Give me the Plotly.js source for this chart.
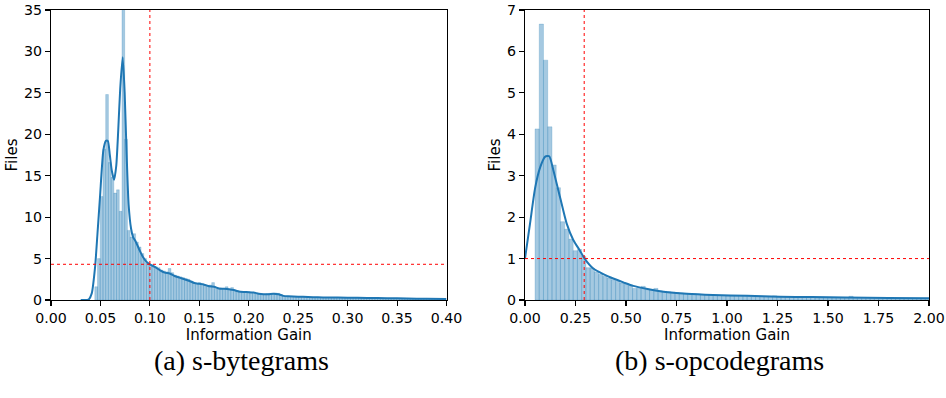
<!DOCTYPE html>
<html>
<head>
<meta charset="utf-8">
<script src="https://cdn.plot.ly/plotly-3.0.1.min.js"></script>
<style>html,body{margin:0;padding:0;background:#fff;}#chart{width:946px;height:398px;}</style>
</head>
<body>
<div id="chart"></div>
<script>
// ---------- Data: (a) s-bytegrams ----------
const bytesBinStart = 0.0443;
const bytesBinWidth = 0.00275;
const bytesCounts = [
  1.6, 5.0, 12.5, 18.2, 24.8, 16.6, 14.8, 12.9, 13.3, 10.7,
  36, 19.4, 8.4, 7.6, 8.0, 7.0, 6.4, 5.6, 5.0, 4.5,
  4.2, 4.1, 4.0, 3.9, 3.6, 3.5, 3.4, 3.8, 3.3, 3.0,
  2.9, 2.8, 2.7, 2.6, 2.5, 2.3, 2.0, 1.9, 2.1, 2.0,
  1.8, 1.7, 1.8, 2.1, 1.4, 1.3, 1.3, 1.4, 1.6, 1.3,
  1.5, 1.2, 1.1, 1.0, 1.0, 1.0, 1.0, 0.9, 0.8, 0.75,
  0.7, 0.7, 0.7, 0.75, 0.8, 0.8, 0.85, 0.8, 0.6, 0.5,
  0.45, 0.42, 0.4, 0.4, 0.38, 0.37, 0.36, 0.35, 0.35, 0.33,
  0.32, 0.33, 0.31, 0.3, 0.3, 0.29, 0.3, 0.28, 0.27, 0.28,
  0.27, 0.26, 0.26, 0.27, 0.25, 0.25, 0.24, 0.24, 0.23, 0.24,
  0.22, 0.22, 0.21, 0.21, 0.2, 0.2, 0.19, 0.19, 0.18, 0.18,
  0.17, 0.17, 0.16, 0.16, 0.16, 0.15, 0.15, 0.14, 0.14, 0.14,
  0.13, 0.13, 0.13, 0.12, 0.12, 0.12, 0.11, 0.11, 0.11
];
const bytesKdeX = [0.030, 0.038, 0.0412, 0.0446, 0.047, 0.0496, 0.053, 0.0555, 0.0575, 0.0595, 0.0615, 0.0638, 0.0660, 0.0680, 0.0700, 0.0725, 0.0745, 0.0765, 0.0785, 0.081, 0.083, 0.085, 0.087, 0.090, 0.093, 0.096, 0.100, 0.105, 0.110, 0.115, 0.120, 0.125, 0.130, 0.135, 0.140, 0.145, 0.150, 0.155, 0.160, 0.165, 0.170, 0.175, 0.180, 0.185, 0.190, 0.195, 0.200, 0.205, 0.210, 0.215, 0.220, 0.225, 0.230, 0.235, 0.240, 0.250, 0.260, 0.270, 0.280, 0.300, 0.320, 0.340, 0.360, 0.380, 0.400];
const bytesKdeY = [0.0, 0.05, 0.8, 4.0, 8.0, 12.5, 18.1, 19.2, 19.2, 17.5, 15.6, 14.5, 16.2, 20.5, 25.5, 29.3, 25.0, 17.5, 11.5, 8.6, 7.6, 7.2, 6.7, 5.9, 5.2, 4.7, 4.3, 4.0, 3.6, 3.3, 3.2, 2.9, 2.7, 2.5, 2.3, 2.05, 1.95, 1.85, 1.65, 1.6, 1.38, 1.35, 1.3, 1.2, 1.02, 0.97, 0.95, 0.9, 0.76, 0.7, 0.7, 0.75, 0.7, 0.5, 0.45, 0.4, 0.36, 0.33, 0.3, 0.28, 0.25, 0.22, 0.18, 0.15, 0.13];
const bytesThresholdX = 0.10;
const bytesThresholdY = 4.31;

// ---------- Data: (b) s-opcodegrams ----------
const opBinStart = 0.0495;
const opBinWidth = 0.021;
const opCounts = [
  4.13, 6.66, 5.79, 4.18, 3.26, 2.71, 1.89, 1.71, 1.47, 1.19,
  1.22, 1.05, 0.78, 0.77, 0.68, 0.62, 0.57, 0.53, 0.49, 0.45,
  0.41, 0.38, 0.35, 0.28, 0.30, 0.33, 0.25, 0.24, 0.28, 0.22,
  0.21, 0.20, 0.19, 0.18, 0.17, 0.16, 0.15, 0.15, 0.14, 0.13,
  0.13, 0.12, 0.12, 0.11, 0.11, 0.10, 0.10, 0.10, 0.09, 0.09,
  0.09, 0.08, 0.08, 0.08, 0.08, 0.07, 0.10, 0.07, 0.07, 0.07,
  0.06, 0.06, 0.06, 0.06, 0.06, 0.06, 0.05, 0.05, 0.05, 0.05,
  0.05, 0.05, 0.05, 0.05, 0.09, 0.04, 0.04, 0.04, 0.04, 0.04,
  0.04, 0.03, 0.04, 0.03, 0.03, 0.03, 0.03, 0.03, 0.03, 0.03,
  0.03, 0.03, 0.03
];
const opKdeX = [0.0, 0.025, 0.05, 0.075, 0.10, 0.12, 0.14, 0.173, 0.206, 0.239, 0.272, 0.295, 0.338, 0.39, 0.437, 0.49, 0.536, 0.60, 0.685, 0.80, 0.932, 1.10, 1.26, 1.42, 1.59, 1.80, 2.0];
const opKdeY = [1.0, 1.85, 2.7, 3.2, 3.46, 3.47, 3.14, 2.49, 1.85, 1.45, 1.19, 1.0, 0.76, 0.62, 0.52, 0.42, 0.34, 0.27, 0.2, 0.15, 0.12, 0.1, 0.08, 0.07, 0.06, 0.05, 0.04];
const opThresholdX = 0.293;
const opThresholdY = 1.0;

// ---------- Tick labels / captions ----------
const bytesTicks = [0, 0.05, 0.10, 0.15, 0.20, 0.25, 0.30, 0.35, 0.40];
const opTicks = [0, 0.25, 0.50, 0.75, 1.00, 1.25, 1.50, 1.75, 2.00];
const xLabel = 'Information Gain';
const yLabel = 'Files';
const captions = ['(a) s-bytegrams', '(b) s-opcodegrams'];

function centers(start, width, n) {
  const out = [];
  for (let i = 0; i < n; i++) out.push(start + width * (i + 0.5));
  return out;
}

const barColor = 'rgba(31,119,180,0.4)';
const edgeColor = 'rgba(31,119,180,0.35)';
const kdeColor = '#1f77b4';

const traces = [
  {type: 'bar', x: centers(bytesBinStart, bytesBinWidth, bytesCounts.length), y: bytesCounts,
   width: bytesBinWidth, marker: {color: barColor, line: {color: edgeColor, width: 0.6}},
   xaxis: 'x', yaxis: 'y', hoverinfo: 'skip'},
  {type: 'scatter', mode: 'lines', x: bytesKdeX, y: bytesKdeY,
   line: {color: kdeColor, width: 2, shape: 'spline', smoothing: 0.6}, xaxis: 'x', yaxis: 'y'},
  {type: 'bar', x: centers(opBinStart, opBinWidth, opCounts.length), y: opCounts,
   width: opBinWidth, marker: {color: barColor, line: {color: edgeColor, width: 0.6}},
   xaxis: 'x2', yaxis: 'y2', hoverinfo: 'skip'},
  {type: 'scatter', mode: 'lines', x: opKdeX, y: opKdeY,
   line: {color: kdeColor, width: 2, shape: 'spline', smoothing: 0.6}, xaxis: 'x2', yaxis: 'y2'}
];

const tickFont = {family: 'DejaVu Sans', size: 14.2, color: '#000'};
const titleFont = {family: 'DejaVu Sans', size: 15, color: '#000'};

function xAxis(domain, range, ticks, anchor) {
  return {domain: domain, range: range, anchor: anchor, tickmode: 'array', tickvals: ticks,
    ticktext: ticks.map(v => v.toFixed(2)), ticks: 'outside', ticklen: 5, tickwidth: 1.1, tickcolor: '#000',
    showline: true, mirror: true, linecolor: '#000', linewidth: 1.1, showgrid: false, zeroline: false,
    tickfont: tickFont, title: {text: xLabel, font: titleFont, standoff: 0}};
}
function yAxis(domain, range, dtick, anchor) {
  return {domain: domain, range: range, anchor: anchor, dtick: dtick, tick0: 0, ticks: 'outside', ticklen: 5,
    tickwidth: 1.1, tickcolor: '#000', showline: true, mirror: true, linecolor: '#000', linewidth: 1.1,
    showgrid: false, zeroline: false, tickfont: tickFont, title: {text: yLabel, font: titleFont, standoff: 2}};
}

const yDom = [98 / 398, 388 / 398];
const layout = {
  width: 946, height: 398, margin: {l: 0, r: 0, t: 0, b: 0},
  paper_bgcolor: '#fff', plot_bgcolor: '#fff', showlegend: false, bargap: 0,
  font: {family: 'DejaVu Sans', color: '#000'},
  xaxis: xAxis([51 / 946, 446.5 / 946], [0, 0.4], bytesTicks, 'y'),
  yaxis: yAxis(yDom, [0, 35], 5, 'x'),
  xaxis2: xAxis([525 / 946, 929 / 946], [0, 2.0], opTicks, 'y2'),
  yaxis2: yAxis(yDom, [0, 7], 1, 'x2'),
  shapes: [
    {type: 'line', xref: 'x', yref: 'y domain', x0: bytesThresholdX, x1: bytesThresholdX, y0: 0, y1: 1,
     line: {color: 'red', width: 1, dash: 'dot'}},
    {type: 'line', xref: 'x domain', yref: 'y', x0: 0, x1: 1, y0: bytesThresholdY, y1: bytesThresholdY,
     line: {color: 'red', width: 1, dash: 'dot'}},
    {type: 'line', xref: 'x2', yref: 'y2 domain', x0: opThresholdX, x1: opThresholdX, y0: 0, y1: 1,
     line: {color: 'red', width: 1, dash: 'dot'}},
    {type: 'line', xref: 'x2 domain', yref: 'y2', x0: 0, x1: 1, y0: opThresholdY, y1: opThresholdY,
     line: {color: 'red', width: 1, dash: 'dot'}}
  ],
  annotations: [
    {text: captions[0], xref: 'paper', yref: 'paper', x: 241 / 946, y: (398 - 360) / 398, showarrow: false,
     xanchor: 'center', yanchor: 'middle', font: {family: 'Liberation Serif', size: 28, color: '#000'}},
    {text: captions[1], xref: 'paper', yref: 'paper', x: 719 / 946, y: (398 - 360) / 398, showarrow: false,
     xanchor: 'center', yanchor: 'middle', font: {family: 'Liberation Serif', size: 28, color: '#000'}}
  ]
};

Plotly.newPlot('chart', traces, layout, {staticPlot: true, displayModeBar: false});
</script>
</body>
</html>
